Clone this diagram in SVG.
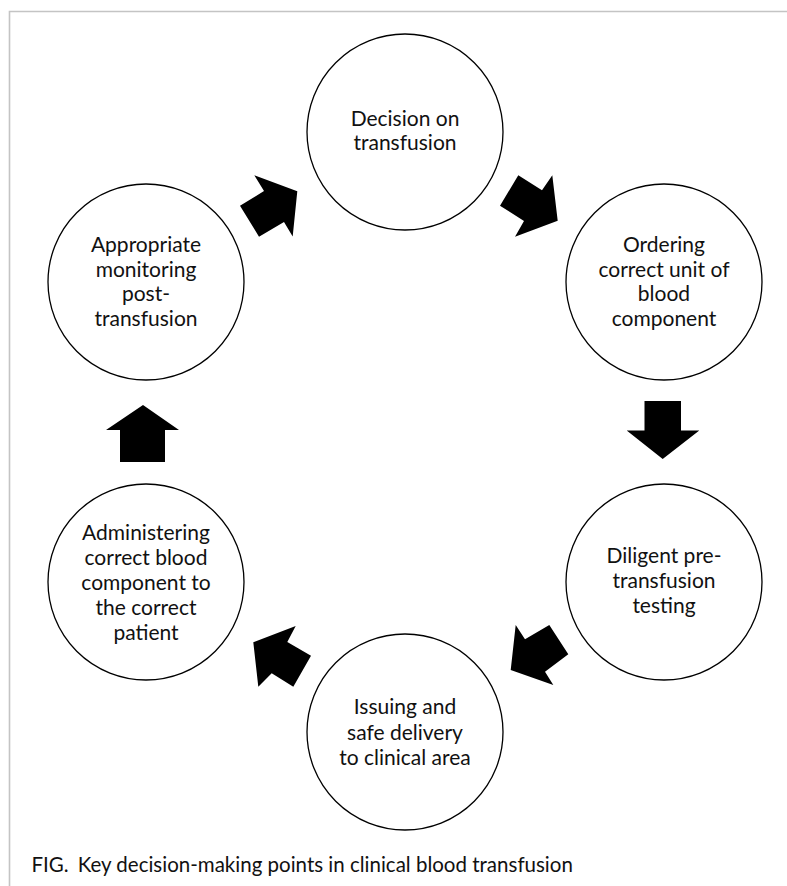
<svg xmlns="http://www.w3.org/2000/svg" width="787" height="886" viewBox="0 0 787 886">
<style>
.node circle{fill:#fff;stroke:#000;stroke-width:1.3}
.node text,.cap{font-family:Lato,"Liberation Sans",sans-serif;font-size:21px;fill:#111;text-anchor:middle}
.cap{text-anchor:start;font-size:20.5px}
.arr{fill:#000;stroke:none}
.frame{stroke:#c4c4c4;stroke-width:1.6;fill:none}
</style>
<rect width="787" height="886" fill="#fff"/>
<path class="frame" d="M9.5 886 V11.5 H787"/>
<g id="connectors">
<polygon class="arr" points="254.3,175.3 297.3,191.3 292.7,236.5 284,222 259,236.7 240,205.7 264,191"/>
<polygon class="arr" points="500,205.7 518.3,175.3 542,190.3 552.3,175.3 557.7,220.7 515,236.7 524,221"/>
<polygon class="arr" points="644.5,401 681,401 681,430.5 699.3,430.5 662.7,459 626.7,430.5 644.5,430.5"/>
<polygon class="arr" points="515.7,625 525,639.3 549.3,625 568.3,654.3 545,671.7 553.3,685 510.7,670"/>
<polygon class="arr" points="253.3,642.3 295.7,626 287.3,642 311,655.7 293.3,686.7 271.7,673.3 258.3,686.7"/>
<polygon class="arr" points="143,405 179,430 165,430 165,462 120,462 120,430 106,430"/>
</g>
<g id="n1" class="node"><circle cx="405" cy="132" r="98"/><text x="405" y="126">Decision on</text><text x="405" y="150">transfusion</text></g>
<g id="n2" class="node"><circle cx="664" cy="282" r="98"/><text x="664" y="252">Ordering</text><text x="664" y="276.5">correct unit of</text><text x="664" y="301">blood</text><text x="664" y="325.5">component</text></g>
<g id="n3" class="node"><circle cx="664" cy="582" r="98"/><text x="664" y="563">Diligent pre-</text><text x="664" y="588">transfusion</text><text x="664" y="613">testing</text></g>
<g id="n4" class="node"><circle cx="405" cy="732" r="98"/><text x="405" y="714">Issuing and</text><text x="405" y="739.5">safe delivery</text><text x="405" y="765">to clinical area</text></g>
<g id="n5" class="node"><circle cx="146" cy="582" r="98"/><text x="146" y="540">Administering</text><text x="146" y="565">correct blood</text><text x="146" y="590">component to</text><text x="146" y="615">the correct</text><text x="146" y="640">patient</text></g>
<g id="n6" class="node"><circle cx="146" cy="282" r="98"/><text x="146" y="252">Appropriate</text><text x="146" y="276.5">monitoring</text><text x="146" y="301">post-</text><text x="146" y="325.5">transfusion</text></g>
<text class="cap" x="31.5" y="872">FIG.<tspan dx="9">Key decision-making points in clinical blood transfusion</tspan></text>
</svg>
